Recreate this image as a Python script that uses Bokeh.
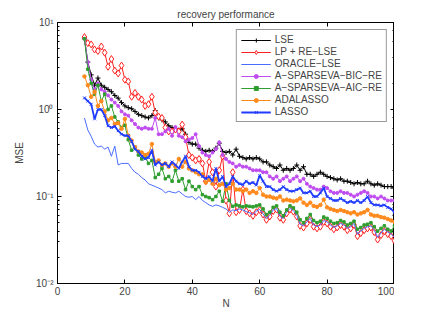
from bokeh.plotting import figure
from bokeh.models import (LogAxis, LinearAxis, FixedTicker, LogTicker, CustomJSTickFormatter,
                          Legend)
from bokeh.embed import file_html
from bokeh.resources import INLINE

N = list(range(8, 101))

lse = [6.5, 3.5, 2.5, 1.9, 2.3, 1.9, 1.8, 1.7, 1.6, 1.45, 1.35, 1.2, 1.1, 1.05, 1.02, 0.95, 0.88, 0.85,
       0.82, 0.8, 0.85, 0.97, 0.8, 0.76, 0.72, 0.65, 0.62, 0.6, 0.58, 0.6, 0.52, 0.42, 0.4, 0.4, 0.36,
       0.34, 0.33, 0.34, 0.33, 0.36, 0.41, 0.33, 0.32, 0.33, 0.3, 0.35, 0.29, 0.28, 0.27, 0.28, 0.27,
       0.28, 0.27, 0.25, 0.25, 0.23, 0.22, 0.21, 0.23, 0.2, 0.21, 0.2, 0.21, 0.23, 0.2, 0.22, 0.18,
       0.18, 0.17, 0.18, 0.19, 0.18, 0.17, 0.165, 0.16, 0.155, 0.16, 0.15, 0.15, 0.145, 0.14, 0.145,
       0.14, 0.14, 0.15, 0.14, 0.135, 0.14, 0.135, 0.13, 0.13, 0.13, 0.125]

lp_re_lse = [6.8, 5.8, 5.6, 4.9, 4.7, 5.3, 4.5, 3.1, 3.8, 2.8, 2.6, 3.2, 2.2, 2.1, 1.4, 1.55, 1.4, 1.3,
             1.1, 1.15, 1.4, 0.92, 0.83, 0.8, 0.62, 0.56, 0.56, 0.59, 0.56, 0.67, 0.48, 0.3, 0.28, 0.26,
             0.27, 0.24, 0.15, 0.25, 0.19, 0.13, 0.2, 0.29, 0.09, 0.064, 0.19, 0.066, 0.07, 0.12, 0.068,
             0.064, 0.06, 0.066, 0.07, 0.062, 0.054, 0.059, 0.068, 0.071, 0.057, 0.054, 0.064, 0.071,
             0.067, 0.059, 0.046, 0.044, 0.049, 0.054, 0.045, 0.043, 0.045, 0.051, 0.049, 0.045, 0.042,
             0.044, 0.047, 0.045, 0.041, 0.043, 0.047, 0.035, 0.038, 0.041, 0.043, 0.044, 0.039, 0.032,
             0.036, 0.04, 0.037, 0.035, 0.031]

oracle_lse = [0.8, 0.58, 0.49, 0.4, 0.37, 0.38, 0.35, 0.37, 0.29, 0.38, 0.23, 0.24, 0.24, 0.24, 0.21,
              0.19, 0.18, 0.165, 0.155, 0.14, 0.135, 0.13, 0.125, 0.12, 0.11, 0.115, 0.112, 0.11, 0.115,
              0.107, 0.1, 0.098, 0.1, 0.092, 0.1, 0.09, 0.085, 0.08, 0.077, 0.08, 0.078, 0.075, 0.072,
              0.066, 0.07, 0.069, 0.072, 0.07, 0.067, 0.065, 0.062, 0.068, 0.071, 0.063, 0.056, 0.061,
              0.07, 0.073, 0.059, 0.056, 0.066, 0.073, 0.069, 0.061, 0.048, 0.046, 0.051, 0.056, 0.047,
              0.045, 0.047, 0.053, 0.051, 0.047, 0.044, 0.046, 0.049, 0.047, 0.043, 0.045, 0.049, 0.037,
              0.04, 0.043, 0.045, 0.046, 0.041, 0.034, 0.038, 0.042, 0.039, 0.037, 0.034]

bic_re = [6.5, 3.5, 2.2, 1.7, 2.0, 1.7, 1.6, 1.45, 1.3, 1.2, 1.1, 0.95, 0.88, 0.85, 0.75, 0.68, 0.62,
          0.6, 0.62, 0.6, 0.6, 0.8, 0.52, 0.52, 0.56, 0.6, 0.5, 0.63, 0.5, 0.48, 0.43, 0.45, 0.47, 0.52,
          0.38, 0.32, 0.3, 0.29, 0.32, 0.35, 0.42, 0.3, 0.27, 0.25, 0.24, 0.22, 0.23, 0.22, 0.22, 0.21,
          0.2, 0.2, 0.2, 0.19, 0.19, 0.17, 0.16, 0.17, 0.15, 0.16, 0.17, 0.15, 0.16, 0.17, 0.15, 0.16,
          0.14, 0.13, 0.125, 0.12, 0.12, 0.13, 0.125, 0.115, 0.11, 0.11, 0.115, 0.11, 0.11, 0.105, 0.1,
          0.105, 0.11, 0.115, 0.11, 0.1, 0.1, 0.095, 0.1, 0.095, 0.09, 0.09, 0.09]

aic_re = [6.5, 2.9, 2.0, 1.5, 1.9, 1.25, 1.5, 1.0, 1.1, 0.82, 0.72, 0.62, 0.66, 0.45, 0.34, 0.37, 0.3,
          0.27, 0.29, 0.24, 0.26, 0.165, 0.18, 0.21, 0.16, 0.17, 0.15, 0.2, 0.15, 0.16, 0.12, 0.15, 0.13,
          0.12, 0.13, 0.105, 0.1, 0.097, 0.092, 0.1, 0.115, 0.088, 0.14, 0.09, 0.077, 0.08, 0.078, 0.076,
          0.078, 0.077, 0.076, 0.078, 0.08, 0.072, 0.062, 0.066, 0.075, 0.078, 0.066, 0.06, 0.07, 0.078,
          0.074, 0.066, 0.054, 0.05, 0.056, 0.062, 0.053, 0.05, 0.052, 0.058, 0.056, 0.052, 0.049, 0.05,
          0.053, 0.051, 0.047, 0.049, 0.052, 0.042, 0.044, 0.047, 0.048, 0.05, 0.045, 0.04, 0.043, 0.046,
          0.042, 0.04, 0.046]

adalasso = [2.4, 1.9, 1.4, 1.6, 1.1, 1.25, 0.95, 0.75, 0.8, 0.68, 0.7, 0.6, 0.78, 0.5, 0.44, 0.37,
            0.33, 0.32, 0.3, 0.31, 0.4, 0.25, 0.26, 0.23, 0.24, 0.22, 0.24, 0.22, 0.27, 0.22, 0.25, 0.21,
            0.2, 0.19, 0.18, 0.18, 0.145, 0.155, 0.14, 0.16, 0.135, 0.14, 0.12, 0.125, 0.14, 0.12, 0.12,
            0.115, 0.12, 0.11, 0.115, 0.11, 0.125, 0.105, 0.1, 0.1, 0.097, 0.095, 0.1, 0.09, 0.092, 0.09,
            0.088, 0.09, 0.095, 0.085, 0.08, 0.085, 0.078, 0.076, 0.08, 0.092, 0.075, 0.072, 0.07, 0.068,
            0.07, 0.068, 0.066, 0.064, 0.066, 0.062, 0.064, 0.066, 0.07, 0.062, 0.06, 0.06, 0.058, 0.057,
            0.055, 0.053, 0.051]

lasso = [1.36, 1.25, 1.15, 0.78, 1.0, 1.0, 0.85, 0.65, 0.62, 0.64, 0.57, 0.52, 0.5, 0.5, 0.43, 0.35,
         0.33, 0.29, 0.27, 0.28, 0.34, 0.23, 0.25, 0.23, 0.24, 0.22, 0.25, 0.23, 0.21, 0.25, 0.29, 0.22,
         0.2, 0.2, 0.19, 0.17, 0.16, 0.17, 0.15, 0.21, 0.15, 0.17, 0.13, 0.14, 0.17, 0.15, 0.14, 0.137,
         0.15, 0.14, 0.145, 0.135, 0.175, 0.15, 0.13, 0.13, 0.12, 0.115, 0.12, 0.13, 0.12, 0.115, 0.115,
         0.12, 0.125, 0.11, 0.11, 0.115, 0.1, 0.1, 0.11, 0.125, 0.1, 0.095, 0.09, 0.09, 0.095, 0.09,
         0.085, 0.088, 0.085, 0.09, 0.085, 0.09, 0.1, 0.085, 0.08, 0.08, 0.078, 0.08, 0.075, 0.072, 0.065]

labels = ["LSE", "LP + RE\u2212LSE", "ORACLE\u2212LSE", "A\u2212SPARSEVA\u2212BIC\u2212RE",
          "A\u2212SPARSEVA\u2212AIC\u2212RE", "ADALASSO", "LASSO"]
x_ticks = [0, 20, 40, 60, 80, 100]

FONT = "Liberation Sans"

p = figure(frame_width=337, frame_height=261, x_range=(0, 100), y_range=(0.01, 10), y_axis_type="log",
           output_backend="svg", toolbar_location=None,
           min_border_left=57, min_border_right=0, min_border_top=22, min_border_bottom=0)
p.title.text = "recovery performance"
p.title.align = "center"
p.title.text_font = FONT
p.title.text_font_size = "10px"
p.title.text_font_style = "normal"
p.title.standoff = 5
p.grid.visible = False
p.outline_line_color = "black"

fmt = CustomJSTickFormatter(code="""
const e = Math.round(Math.log10(tick));
const sup = {'-':'\u207b','0':'\u2070','1':'\u00b9','2':'\u00b2','3':'\u00b3'};
return '10' + String(e).split('').map(c => sup[c]).join('');
""")

for ax in p.xaxis:
    ax.ticker = FixedTicker(ticks=x_ticks)
    ax.axis_label = "N"
    ax.major_label_standoff = 3
    ax.axis_label_standoff = 0
for ax in p.yaxis:
    ax.formatter = fmt
    ax.axis_label = "MSE"
    ax.major_label_standoff = 4
    ax.axis_label_standoff = 8
for ax in list(p.xaxis) + list(p.yaxis):
    ax.major_tick_in = 4
    ax.major_tick_out = 0
    ax.minor_tick_in = 2
    ax.minor_tick_out = 0
    ax.major_label_text_font = FONT
    ax.major_label_text_font_size = "10px"
    ax.axis_label_text_font = FONT
    ax.axis_label_text_font_size = "10px"
    ax.axis_label_text_font_style = "normal"
    ax.axis_line_color = "black"
    ax.major_tick_line_color = "black"
    ax.minor_tick_line_color = "black"

top = LinearAxis(ticker=FixedTicker(ticks=x_ticks), major_label_text_color=None,
                 major_label_text_font_size="1px", major_label_standoff=0,
                 major_tick_in=4, major_tick_out=0, minor_tick_line_color=None)
right = LogAxis(ticker=LogTicker(), major_label_text_color=None,
                major_label_text_font_size="1px", major_label_standoff=0,
                major_tick_in=4, major_tick_out=0, minor_tick_in=2, minor_tick_out=0)
p.add_layout(top, "above")
p.add_layout(right, "right")

series = [
    (lse, labels[0], "#000000", 1.0, "cross", 5, True),
    (lp_re_lse, labels[1], "#ff2020", 1.0, "diamond", 7, False),
    (oracle_lse, labels[2], "#4a6cff", 1.0, None, 0, True),
    (bic_re, labels[3], "#c04cf0", 1.0, "circle", 3, True),
    (aic_re, labels[4], "#2f9e2f", 1.0, "square", 2.5, True),
    (adalasso, labels[5], "#ff8a1c", 1.0, "circle", 3.5, True),
    (lasso, labels[6], "#1f3cff", 1.8, "x", 4, True),
]

items = []
for ys, lab, col, lw, mk, ms, filled in series:
    rs = [p.line(N, ys, line_color=col, line_width=lw)]
    if mk:
        fc = col if filled else "white"
        rs.append(p.scatter(N, ys, marker=mk, size=ms, line_color=col, fill_color=fc, line_width=1))
    items.append((lab, rs))

leg = Legend(items=items, location="top_right")
leg.label_text_font = FONT
leg.label_text_font_size = "10px"
leg.label_height = 10
leg.glyph_height = 10
leg.glyph_width = 30
leg.spacing = 1
leg.padding = 4
leg.margin = 7
leg.label_standoff = 4
leg.border_line_color = "#333333"
leg.border_line_width = 1.5
leg.background_fill_color = "white"
leg.background_fill_alpha = 1.0
p.add_layout(leg)

open("out.html", "w").write(file_html(p, INLINE))
